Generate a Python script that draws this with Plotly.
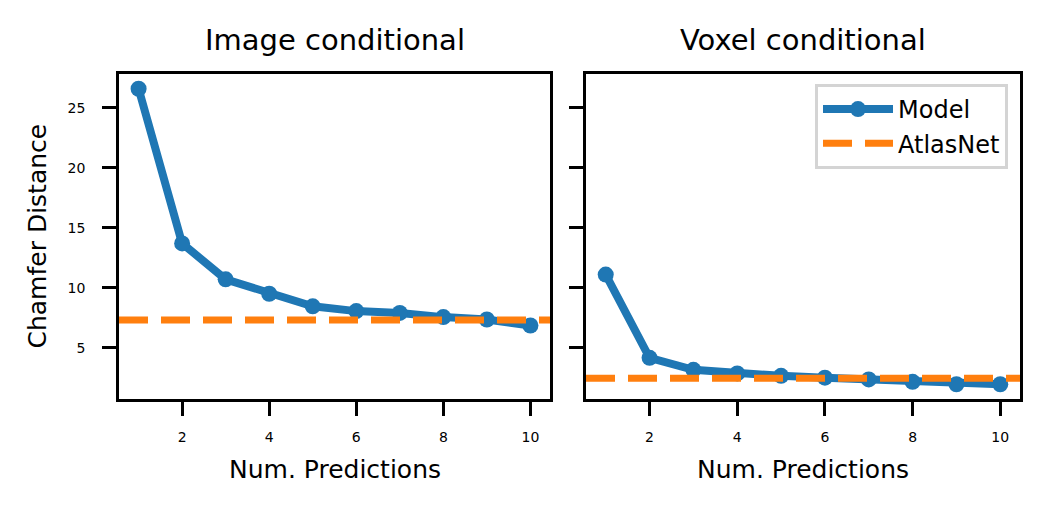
import plotly.graph_objects as go

# values
num_preds = [1, 2, 3, 4, 5, 6, 7, 8, 9, 10]
image_cd = [26.6, 13.7, 10.7, 9.5, 8.45, 8.05, 7.9, 7.55, 7.35, 6.85]
voxel_cd = [11.1, 4.15, 3.15, 2.85, 2.65, 2.5, 2.35, 2.15, 1.95, 1.95]
atlasnet_image = 7.3
atlasnet_voxel = 2.45

panel_titles = ["Image conditional", "Voxel conditional"]
x_ticks = [2, 4, 6, 8, 10]
y_ticks = [5, 10, 15, 20, 25]

BLUE = "#1f77b4"
ORANGE = "#ff7f0e"
FONT = "DejaVu Sans"

# page has an 8px body margin, so size the figure to fit the window
W, H, OFF = 1034, 494, 8


def px(x):
    return (x - OFF) / W


def py(y):
    return 1 - (y - OFF) / H


# matplotlib-style 5% margins, shared y
lo = min(image_cd + voxel_cd)
hi = max(image_cd + voxel_cd)
pad = 0.05 * (hi - lo)
y_range = [lo - pad, hi + pad]
x_pad = 0.05 * (max(num_preds) - min(num_preds))
x_range = [min(num_preds) - x_pad, max(num_preds) + x_pad]

fig = go.Figure()

fig.add_trace(go.Scatter(x=num_preds, y=image_cd, mode="lines+markers",
                         name="Model", legendrank=1,
                         line=dict(color=BLUE, width=8),
                         marker=dict(color=BLUE, size=16),
                         xaxis="x", yaxis="y"))
fig.add_trace(go.Scatter(x=num_preds, y=voxel_cd, mode="lines+markers",
                         name="Model", showlegend=False,
                         line=dict(color=BLUE, width=8),
                         marker=dict(color=BLUE, size=16),
                         xaxis="x2", yaxis="y2"))

for i, (ax, val) in enumerate([("", atlasnet_image), ("2", atlasnet_voxel)]):
    fig.add_shape(type="line", xref=f"x{ax} domain", yref=f"y{ax}",
                  x0=0, x1=1, y0=val, y1=val,
                  line=dict(color=ORANGE, width=7, dash="29px,13px"),
                  name="AtlasNet", showlegend=(i == 1), legendrank=2)

axis_style = dict(showline=True, mirror=True, linecolor="black", linewidth=2.7,
                  ticks="outside", ticklen=14, tickwidth=2.7, tickcolor="black",
                  showgrid=False, zeroline=False,
                  tickfont=dict(family=FONT, size=14, color="black"))

y_dom = [py(399), py(74)]

fig.update_layout(
    width=W, height=H,
    margin=dict(l=0, r=0, t=0, b=0),
    paper_bgcolor="white", plot_bgcolor="white",
    font=dict(family=FONT, color="black"),
    xaxis=dict(domain=[px(119), px(550)], range=x_range, tickvals=x_ticks,
               anchor="y", ticklabelstandoff=9, **axis_style),
    yaxis=dict(domain=y_dom, range=y_range, tickvals=y_ticks,
               anchor="x", ticklabelstandoff=14, **axis_style),
    xaxis2=dict(domain=[px(586), px(1020)], range=x_range, tickvals=x_ticks,
                anchor="y2", ticklabelstandoff=9, **axis_style),
    yaxis2=dict(domain=y_dom, range=y_range, tickvals=y_ticks,
                anchor="x2", matches="y", showticklabels=False, **axis_style),
    legend=dict(x=px(1008), y=py(84), xanchor="right", yanchor="top",
                bgcolor="white", bordercolor="#d4d4d4", borderwidth=3,
                itemwidth=70,
                font=dict(family=FONT, size=24, color="black")),
    showlegend=True,
)

# panel titles and axis labels
for title, xc in zip(panel_titles, [(119 + 550) / 2, (586 + 1020) / 2]):
    fig.add_annotation(text=title, x=px(xc), y=py(40), xref="paper", yref="paper",
                       xanchor="center", yanchor="middle", showarrow=False,
                       font=dict(family=FONT, size=29))
    fig.add_annotation(text="Num. Predictions", x=px(xc), y=py(469),
                       xref="paper", yref="paper", xanchor="center",
                       yanchor="middle", showarrow=False,
                       font=dict(family=FONT, size=25))

fig.add_annotation(text="Chamfer Distance", x=px(37), y=py(236.5),
                   xref="paper", yref="paper", xanchor="center", yanchor="middle",
                   showarrow=False, textangle=-90,
                   font=dict(family=FONT, size=25))

fig.write_html("out.html")
